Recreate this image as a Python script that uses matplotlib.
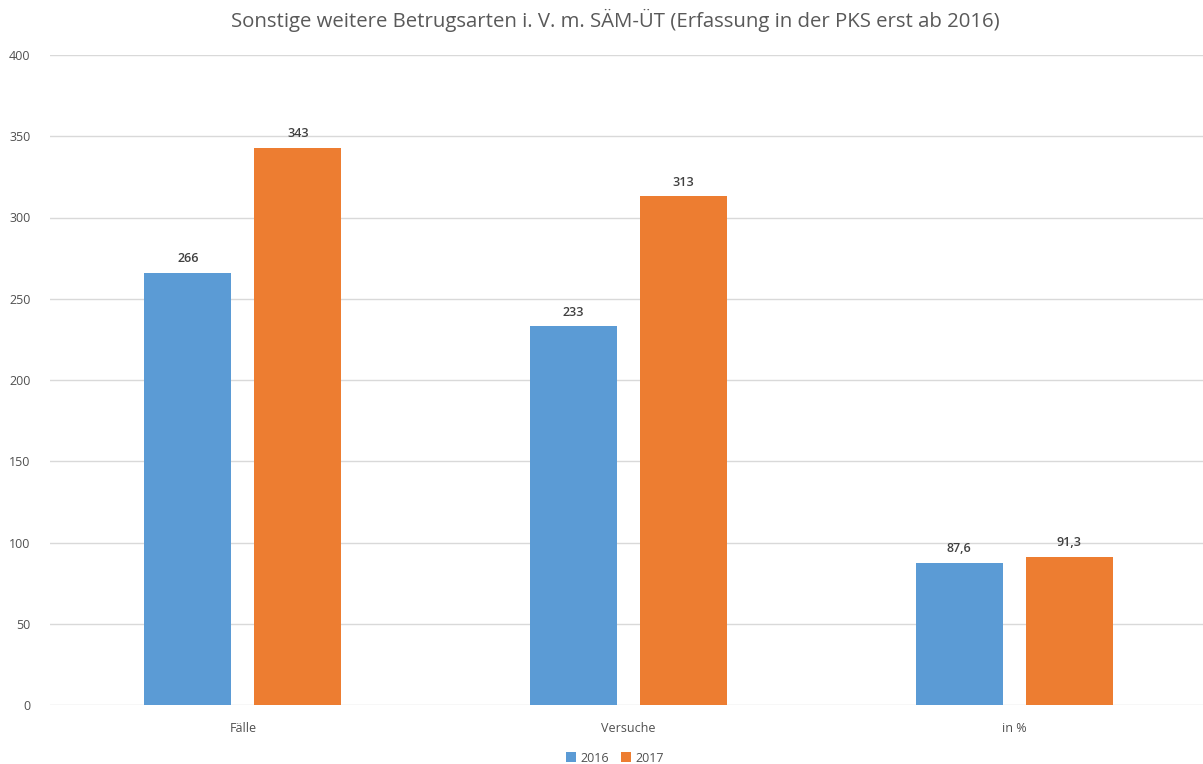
import matplotlib
matplotlib.use("Agg")
import matplotlib.pyplot as plt
import numpy as np

categories = ["Fälle", "Versuche", "in %"]
series_names = ["2016", "2017"]
values_2016 = [266, 233, 87.6]
values_2017 = [343, 313, 91.3]
labels_2016 = ["266", "233", "87,6"]
labels_2017 = ["343", "313", "91,3"]
yticks = [0, 50, 100, 150, 200, 250, 300, 350, 400]

plt.rcParams['font.family'] = ['Open Sans', 'DejaVu Sans']
TXT = '#595959'
BLUE = '#5B9BD5'
ORANGE = '#ED7D31'

W, H = 1203, 764
fig = plt.figure(figsize=(W/100, H/100), dpi=100)
ax = fig.add_axes([50/W, (H-705)/H, (1207-50)/W, (705-55)/H])

x = np.arange(len(categories))
bw = 0.2257
off = 0.1427
b1 = ax.bar(x - off, values_2016, bw, color=BLUE, label=series_names[0], zorder=3)
b2 = ax.bar(x + off, values_2017, bw, color=ORANGE, label=series_names[1], zorder=3)

for bars, labs in ((b1, labels_2016), (b2, labels_2017)):
    for r, lab in zip(bars, labs):
        ax.annotate(lab, (r.get_x() + r.get_width()/2, r.get_height()),
                    xytext=(0, 5.5), textcoords='offset points', ha='center', va='bottom',
                    fontsize=9, color='#404040', fontweight='semibold')

ax.set_xlim(-0.5, 2.5)
ax.set_ylim(0, 400)
ax.set_yticks(yticks)
ax.set_yticklabels([str(t) for t in yticks])
ax.set_xticks(x)
ax.set_xticklabels(categories)
ax.grid(axis='y', color='#D9D9D9', linewidth=1, zorder=0)
for s in ax.spines.values():
    s.set_visible(False)
ax.tick_params(axis='both', length=0, labelsize=9, labelcolor='#505050')
ax.tick_params(axis='y', pad=14)
ax.tick_params(axis='x', pad=12)

fig.text(615/W, 1 - 20/H, "Sonstige weitere Betrugsarten i. V. m. SÄM-ÜT (Erfassung in der PKS erst ab 2016)",
         ha='center', va='center', fontsize=14.7, color=TXT)

leg = fig.legend(handles=[b1, b2], labels=series_names, loc='center', bbox_to_anchor=(615/W, 1 - 758/H),
                 ncol=2, frameon=False, fontsize=9, handlelength=0.8, handleheight=0.8,
                 handletextpad=0.3, columnspacing=1.0)
for t in leg.get_texts():
    t.set_color('#505050')

fig.savefig("out.png", dpi=100, facecolor='white')
